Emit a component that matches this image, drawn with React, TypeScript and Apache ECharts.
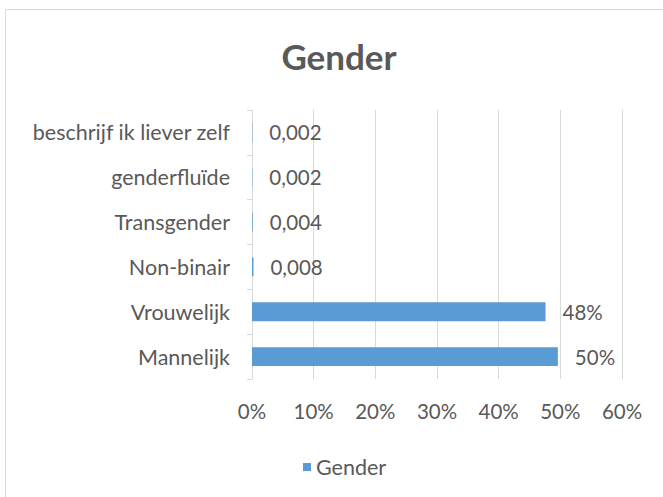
import React, { useEffect, useRef } from "react";
import * as echarts from "echarts";

const categories = ["Mannelijk", "Vrouwelijk", "Non-binair", "Transgender", "genderfluïde", "beschrijf ik liever zelf"];
// bar lengths (fraction of the 0–60% axis)
const values = [0.496, 0.476, 0.0024, 0.0012, 0.0006, 0.0006];
// data labels as printed next to each bar
const labelTexts = ["50%", "48%", "0,008", "0,004", "0,002", "0,002"];
const xTicks = [0, 0.1, 0.2, 0.3, 0.4, 0.5, 0.6];
const seriesName = "Gender";
const titleText = "Gender";

const FONT = "Lato";
const TEXT = "#595959";
const GRID = "#d9d9d9";

export default function App() {
  const ref = useRef<HTMLDivElement>(null);
  useEffect(() => {
    if (!ref.current) return;
    const chart = echarts.init(ref.current, null, { renderer: "svg" });
    chart.setOption({
      animation: false,
      backgroundColor: "#ffffff",
      textStyle: { fontFamily: FONT },
      graphic: [
        {
          type: "rect",
          shape: { x: 5.5, y: 9.5, width: 700, height: 600 },
          style: { fill: "none", stroke: GRID, lineWidth: 1 },
          silent: true,
        },
      ],
      title: {
        text: titleText,
        left: 334,
        top: 33,
        textAlign: "center",
        textStyle: { fontFamily: FONT, fontSize: 35, fontWeight: "bold", color: TEXT },
      },
      legend: {
        data: [seriesName],
        left: 298,
        top: 451,
        itemWidth: 8,
        itemHeight: 8,
        itemGap: 6,
        icon: "rect",
        textStyle: { fontFamily: FONT, fontSize: 21.5, color: TEXT },
      },
      grid: { left: 252, right: 41, top: 110, bottom: 118 },
      xAxis: {
        type: "value",
        min: xTicks[0],
        max: xTicks[xTicks.length - 1],
        interval: 0.1,
        axisLine: { show: false },
        axisTick: { show: false },
        splitLine: { show: true, lineStyle: { color: GRID, width: 1 } },
        axisLabel: {
          margin: 21,
          fontFamily: FONT,
          fontSize: 20.5,
          color: TEXT,
          formatter: (v: number) => Math.round(v * 100) + "%",
        },
      },
      yAxis: {
        type: "category",
        data: categories,
        axisLine: { show: true, lineStyle: { color: GRID, width: 1 } },
        axisTick: { show: true, length: 5, lineStyle: { color: GRID } },
        axisLabel: { margin: 22, fontFamily: FONT, fontSize: 21.5, color: TEXT },
      },
      series: [
        {
          name: seriesName,
          type: "bar",
          data: values,
          barWidth: "42%",
          itemStyle: { color: "#5b9bd5" },
          label: {
            show: true,
            position: "right",
            distance: 17,
            fontFamily: FONT,
            fontSize: 20.5,
            color: TEXT,
            formatter: (p: any) => labelTexts[p.dataIndex],
          },
        },
      ],
    });
    return () => chart.dispose();
  }, []);
  return <div ref={ref} style={{ width: 663, height: 497, position: "absolute", left: 0, top: 0 }} />;
}
